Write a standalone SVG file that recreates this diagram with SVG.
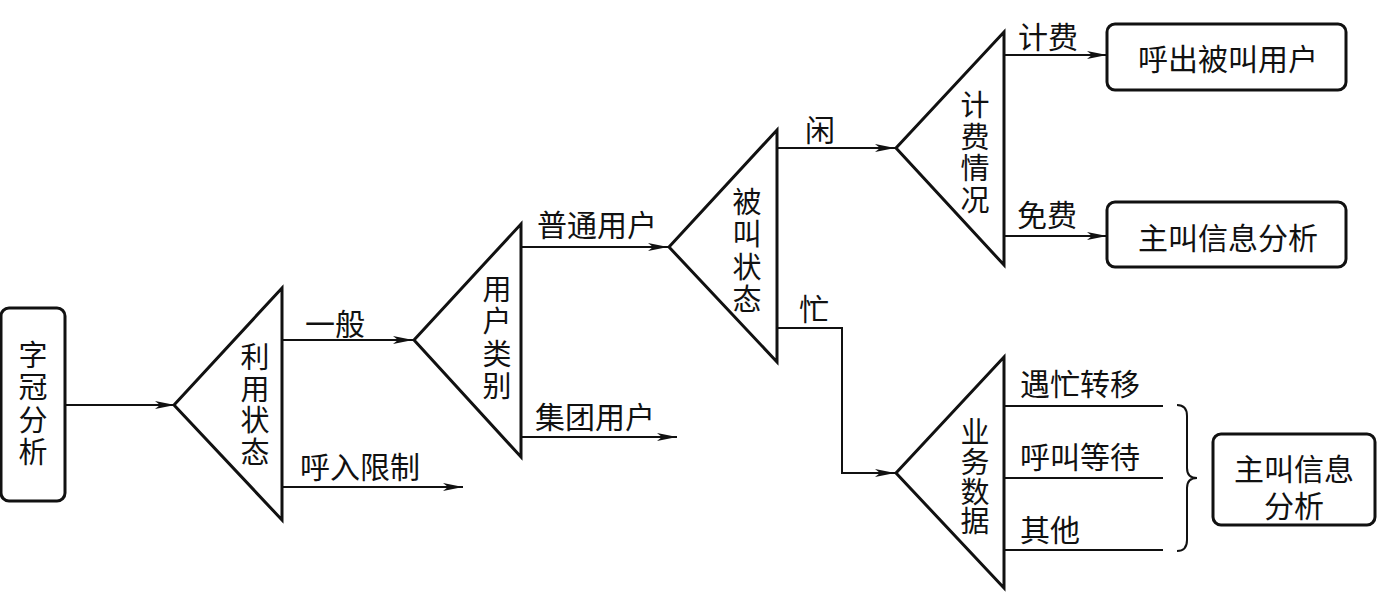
<svg xmlns="http://www.w3.org/2000/svg" width="1378" height="597" viewBox="0 0 1378 597">
<defs>
<marker id="arr" viewBox="0 0 20 10" refX="20" refY="5" markerWidth="20" markerHeight="10" markerUnits="userSpaceOnUse" orient="auto">
<path d="M0,1 L20,5 L0,9 L5,5 Z" fill="#111"/>
</marker>
<style>
text{font-family:"Noto Sans CJK SC","Noto Sans CJK JP",sans-serif;font-size:30px;fill:#111;dominant-baseline:central}
.v{font-size:29px;text-anchor:middle}
.tri{fill:#fff;stroke:#111;stroke-width:3;stroke-linejoin:miter}
.box{fill:#fff;stroke:#111;stroke-width:3}
.ln{fill:none;stroke:#111;stroke-width:2}
.ar{marker-end:url(#arr)}
.c{text-anchor:middle}
</style>
</defs>
<rect width="1378" height="597" fill="#fff"/>
<g id="connectors">
<path class="ln ar" d="M65,405 H175"/>
<path class="ln ar" d="M282,340 H413"/>
<path class="ln ar" d="M282,487 H463"/>
<path class="ln ar" d="M521,247 H668"/>
<path class="ln ar" d="M521,437 H677"/>
<path class="ln ar" d="M777,148 H895"/>
<path class="ln ar" d="M777,328 H842 V473 H895"/>
<path class="ln ar" d="M1003,55 H1107"/>
<path class="ln ar" d="M1003,236 H1107"/>
<path class="ln" d="M1003,406 H1163 M1003,478 H1163 M1003,550 H1163"/>
<path class="ln" d="M1177,405 Q1187,405 1187,416 V468 Q1187,478 1197,478 Q1187,478 1187,488 V540 Q1187,551 1177,551"/>
<text x="305" y="322">一般</text>
<text x="300" y="465">呼入限制</text>
<text x="537" y="223">普通用户</text>
<text x="535" y="415">集团用户</text>
<text x="820" y="128" class="c">闲</text>
<text x="814" y="307" class="c">忙</text>
<text x="1018" y="35">计费</text>
<text x="1017" y="213">免费</text>
<text x="1020" y="382">遇忙转移</text>
<text x="1020" y="455">呼叫等待</text>
<text x="1020" y="528">其他</text>
</g>
<g id="n-ziguan">
<rect class="box" x="1" y="308" width="64" height="193" rx="8"/>
<text class="v"><tspan x="33" y="353">字</tspan><tspan x="33" y="385">冠</tspan><tspan x="33" y="418">分</tspan><tspan x="33" y="450">析</tspan></text>
</g>
<g id="n-liyong">
<polygon class="tri" points="174,405 282,288 282,520"/>
<text class="v"><tspan x="255" y="355">利</tspan><tspan x="255" y="387">用</tspan><tspan x="255" y="418">状</tspan><tspan x="255" y="450">态</tspan></text>
</g>
<g id="n-yonghu">
<polygon class="tri" points="414,340 521,224 521,457"/>
<text class="v"><tspan x="497" y="287">用</tspan><tspan x="497" y="319">户</tspan><tspan x="497" y="352">类</tspan><tspan x="497" y="384">别</tspan></text>
</g>
<g id="n-beijiao">
<polygon class="tri" points="669,247 777,130 777,362"/>
<text class="v"><tspan x="747" y="200">被</tspan><tspan x="747" y="232">叫</tspan><tspan x="747" y="265">状</tspan><tspan x="747" y="297">态</tspan></text>
</g>
<g id="n-jifei">
<polygon class="tri" points="896,148 1004,32 1004,265"/>
<text class="v"><tspan x="975" y="103">计</tspan><tspan x="975" y="135">费</tspan><tspan x="975" y="166">情</tspan><tspan x="975" y="198">况</tspan></text>
</g>
<g id="n-yewu">
<polygon class="tri" points="896,473 1004,357 1004,588"/>
<text class="v"><tspan x="975" y="430">业</tspan><tspan x="975" y="460">务</tspan><tspan x="975" y="490">数</tspan><tspan x="975" y="519">据</tspan></text>
</g>
<g id="n-huchu">
<rect class="box" x="1107" y="24" width="239" height="66" rx="8"/>
<text class="c" x="1228" y="57">呼出被叫用户</text>
</g>
<g id="n-zhujiao1">
<rect class="box" x="1107" y="202" width="239" height="65" rx="8"/>
<text class="c" x="1228" y="236">主叫信息分析</text>
</g>
<g id="n-zhujiao2">
<rect class="box" x="1213" y="434" width="162" height="91" rx="8"/>
<text class="c"><tspan x="1294" y="467">主叫信息</tspan><tspan x="1294" y="504">分析</tspan></text>
</g>
</svg>
